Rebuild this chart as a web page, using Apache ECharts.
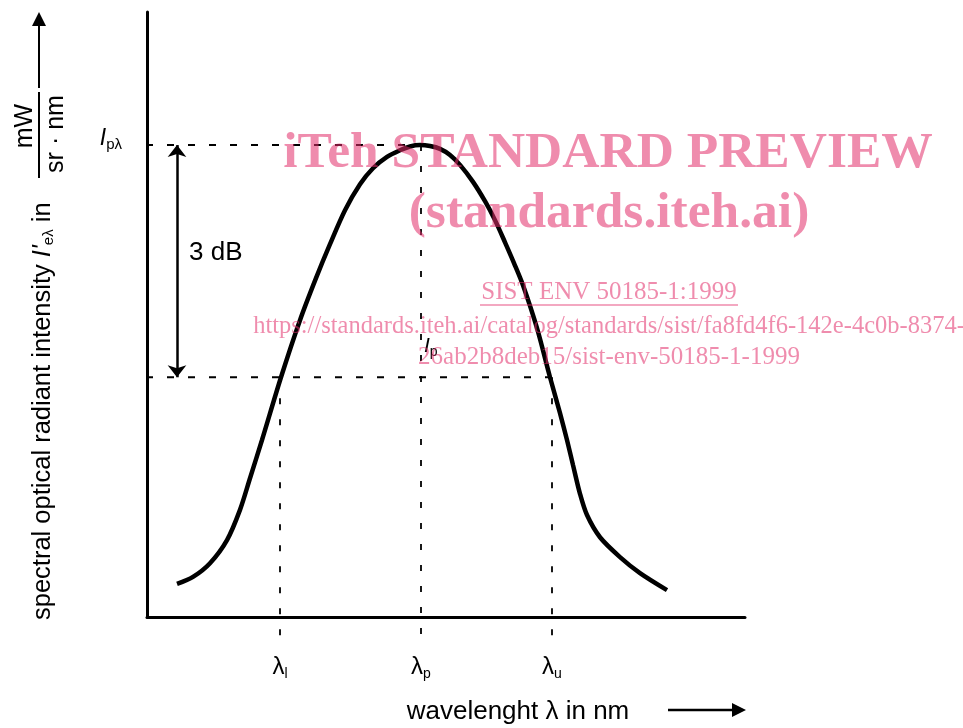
<!DOCTYPE html>
<html>
<head>
<meta charset="utf-8">
<script src="https://cdn.jsdelivr.net/npm/echarts@6/dist/echarts.min.js"></script>
<style>
html,body{margin:0;padding:0;background:#fff;}
#chart{width:963px;height:728px;}
</style>
</head>
<body>
<div id="chart"></div>
<script>
// ---- data (relative units) ----
const curveX = [30,46,63,80,93,103,115,134,153,169,183,198,213,226,240,253,263,273,283,293,303,313,326,338,348,358,367,376,390,403,413,420,426,433,440,453,473,493,520];
const curveY = [0.070,0.085,0.114,0.163,0.227,0.294,0.375,0.508,0.629,0.718,0.790,0.862,0.917,0.951,0.975,0.989,0.997,1.000,0.998,0.992,0.979,0.958,0.922,0.881,0.841,0.794,0.750,0.703,0.612,0.508,0.432,0.375,0.322,0.261,0.216,0.169,0.127,0.093,0.057];
const peakLevel = 1.0;
const halfLevel = 0.508;
const lambdaNames = ['l','p','u'];
const lambdaValues = [133, 274, 405];
const xMin = 0, xMax = 598;
const yMin = 0, yMax = 1.282;

const chart = echarts.init(document.getElementById('chart'), null, {renderer:'canvas'});

const dashH = {color:'#000', width:2, type:[7,14]};
const dashV = {color:'#000', width:1.8, type:[6,15]};
const below = -0.045;
const lineLeft = -22;
const pink = 'rgba(225,45,105,0.55)';

function dashed(data, style){
  return {type:'line', data:data, symbol:'none', clip:false, silent:true,
    lineStyle:style, z:2, animation:false};
}

const option = {
  animation:false,
  backgroundColor:'#fff',
  grid:{left:147, right:218, top:12, bottom:111},
  xAxis:{
    type:'value', min:xMin, max:xMax,
    axisLine:{show:true, lineStyle:{color:'#000', width:3}},
    axisTick:{show:false}, splitLine:{show:false},
    axisLabel:{
      customValues:lambdaValues,
      margin:36,
      formatter:function(v){
        const i = lambdaValues.indexOf(v);
        return '{l|λ}{s|' + lambdaNames[i] + '}';
      },
      rich:{
        l:{fontFamily:'Liberation Sans', fontSize:24, color:'#000'},
        s:{fontFamily:'Liberation Sans', fontSize:14, color:'#000', padding:[14,0,0,0]}
      }
    }
  },
  yAxis:{
    type:'value', min:yMin, max:yMax,
    axisLine:{show:true, lineStyle:{color:'#000', width:3}},
    axisTick:{show:false}, splitLine:{show:false},
    axisLabel:{
      customValues:[peakLevel],
      margin:25,
      formatter:function(){ return '{i|I}{s|pλ}'; },
      rich:{
        i:{fontFamily:'Liberation Sans', fontStyle:'italic', fontSize:23, color:'#000', padding:[0,0,12,0]},
        s:{fontFamily:'Liberation Sans', fontSize:15, color:'#000'}
      }
    }
  },
  series:[
    dashed([[lineLeft, peakLevel],[lambdaValues[1], peakLevel]], dashH),
    dashed([[lineLeft, halfLevel],[lambdaValues[2]+8, halfLevel]], dashH),
    dashed([[lambdaValues[0], halfLevel],[lambdaValues[0], below]], dashV),
    dashed([[lambdaValues[1], peakLevel],[lambdaValues[1], below]], dashV),
    dashed([[lambdaValues[2], halfLevel],[lambdaValues[2], below]], dashV),
    {
      type:'line', data:curveX.map((x,i)=>[x, curveY[i]]), smooth:0.3,
      symbol:'none', lineStyle:{color:'#000', width:4.5}, z:5,
      markLine:{
        silent:true, symbol:['arrow','arrow'], symbolSize:[14,12],
        label:{show:false},
        lineStyle:{color:'#000', width:2.5, type:'solid'},
        data:[[{coord:[30, peakLevel]},{coord:[30, halfLevel]}]]
      }
    }
  ],
  graphic:[
    {type:'text', x:189, y:253, style:{text:'3 dB', fontFamily:'Liberation Sans', fontSize:26, fill:'#000', verticalAlign:'middle'}},
    {type:'text', x:424, y:346, style:{text:'{i|I}{s|p}', verticalAlign:'middle',
      rich:{i:{fontFamily:'Liberation Sans', fontStyle:'italic', fontSize:21, fill:'#000'},
            s:{fontFamily:'Liberation Sans', fontSize:14, fill:'#000', padding:[12,0,0,0]}}}},
    // x axis name
    {type:'text', x:518, y:712, style:{text:'wavelenght λ in nm', fontFamily:'Liberation Sans', fontSize:26, fill:'#000', align:'center', verticalAlign:'middle'}},
    {type:'line', shape:{x1:668, y1:710, x2:734, y2:710}, style:{stroke:'#000', lineWidth:2.5}},
    {type:'polygon', shape:{points:[[746,710],[732,703],[732,717]]}, style:{fill:'#000'}},
    // y axis name (rotated)
    {type:'text', x:43, y:620, rotation:Math.PI/2, style:{text:"{t|spectral optical radiant intensity }{i|I'}{s|eλ}{t| in}", align:'left', verticalAlign:'middle',
      rich:{t:{fontFamily:'Liberation Sans', fontSize:25.5, fill:'#000'},
            i:{fontFamily:'Liberation Sans', fontStyle:'italic', fontSize:25.5, fill:'#000'},
            s:{fontFamily:'Liberation Sans', fontSize:15, fill:'#000', padding:[12,0,0,0]}}}},
    {type:'text', x:25, y:126, rotation:Math.PI/2, style:{text:'mW', fontFamily:'Liberation Sans', fontSize:25, fill:'#000', align:'center', verticalAlign:'middle'}},
    {type:'text', x:56, y:134, rotation:Math.PI/2, style:{text:'sr · nm', fontFamily:'Liberation Sans', fontSize:25, fill:'#000', align:'center', verticalAlign:'middle'}},
    {type:'line', shape:{x1:39, y1:178, x2:39, y2:92}, style:{stroke:'#000', lineWidth:2}},
    {type:'line', shape:{x1:39, y1:88, x2:39, y2:24}, style:{stroke:'#000', lineWidth:2}},
    {type:'polygon', shape:{points:[[39,12],[32,26],[46,26]]}, style:{fill:'#000'}},
    // watermark
    {type:'text', x:608, y:154, z:100, style:{text:'iTeh STANDARD PREVIEW', fontFamily:'Liberation Serif', fontWeight:'bold', fontSize:51.5, fill:pink, align:'center', verticalAlign:'middle'}},
    {type:'text', x:609, y:214, z:100, style:{text:'(standards.iteh.ai)', fontFamily:'Liberation Serif', fontWeight:'bold', fontSize:51.5, fill:pink, align:'center', verticalAlign:'middle'}},
    {type:'text', x:609, y:292, z:100, style:{text:'SIST ENV 50185-1:1999', fontFamily:'Liberation Serif', fontSize:25, fill:pink, align:'center', verticalAlign:'middle'}},
    {type:'line', z:100, shape:{x1:480, y1:305, x2:738, y2:305}, style:{stroke:pink, lineWidth:1.3}},
    {type:'text', x:609, y:327, z:100, style:{text:'https://standards.iteh.ai/catalog/standards/sist/fa8fd4f6-142e-4c0b-8374-', fontFamily:'Liberation Serif', fontSize:24.5, fill:pink, align:'center', verticalAlign:'middle'}},
    {type:'text', x:609, y:357, z:100, style:{text:'26ab2b8deb15/sist-env-50185-1-1999', fontFamily:'Liberation Serif', fontSize:25, fill:pink, align:'center', verticalAlign:'middle'}}
  ]
};
chart.setOption(option);
</script>
</body>
</html>
